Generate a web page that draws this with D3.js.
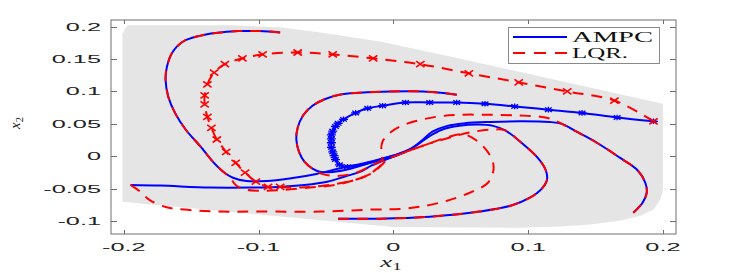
<!DOCTYPE html>
<html>
<head>
<meta charset="utf-8">
<script src="https://cdn.jsdelivr.net/npm/d3@7"></script>
<style>
body { margin: 0; background: #fff; }
</style>
</head>
<body>
<div id="chart"></div>
<script>

// ticks
var xTicks = [-0.2, -0.1, 0, 0.1, 0.2];
var yTicks = [-0.1, -0.05, 0, 0.05, 0.1, 0.15, 0.2];
var xTickLabels = ["-0.2", "-0.1", "0", "0.1", "0.2"];
var yTickLabels = ["-0.1", "-0.05", "0", "0.05", "0.1", "0.15", "0.2"];
var seriesNames = ["AMPC", "LQR."];

// grey feasible region (x1, x2)
var region = [[-0.197,0.202],[-0.121,0.202],[-0.084,0.199],[-0.054,0.191],[-0.010,0.177],[0.042,0.154],
	[0.200,0.081],[0.200,0.000],[0.200,-0.051],[0.198,-0.067],[0.193,-0.082],[0.183,-0.092],[0.168,-0.099],
	[0.146,-0.105],[0.124,-0.108],[0.094,-0.110],[0.000,-0.109],[-0.201,-0.070],[-0.201,0.172],[-0.201,0.188],[-0.199,0.197]];

// AMPC trajectories
var ampcA = [[-0.084,0.191],[-0.099,0.193],[-0.115,0.193],[-0.132,0.190],[-0.143,0.186],[-0.156,0.177],[-0.164,0.160],
	[-0.168,0.138],[-0.169,0.118],[-0.167,0.092],[-0.162,0.067],[-0.154,0.041],[-0.143,0.015],[-0.134,-0.008],
	[-0.126,-0.024],[-0.119,-0.033],[-0.109,-0.038],[-0.094,-0.038],[-0.077,-0.034],[-0.057,-0.027],[-0.037,-0.017],
	[-0.021,-0.010],[-0.006,-0.002],[0.005,0.004]];
var ampcB = [[-0.195,-0.044],[-0.173,-0.045],[-0.136,-0.048],[-0.106,-0.048],[-0.086,-0.047],[-0.066,-0.044],
	[-0.049,-0.039],[-0.036,-0.031],[-0.025,-0.024],[-0.016,-0.014],[-0.008,-0.007],[0.001,0.001]];
var ampcD = [[0.178,-0.087],[0.185,-0.071],[0.188,-0.056],[0.187,-0.041],[0.181,-0.021],[0.168,-0.002],[0.151,0.021],
	[0.136,0.038],[0.125,0.050],[0.116,0.053],[0.094,0.054],[0.072,0.053],[0.053,0.051],[0.040,0.047],[0.029,0.038],
	[0.022,0.026],[0.014,0.013],[0.003,0.003],[-0.006,-0.005]];
var ampcE = [[-0.041,-0.096],[-0.010,-0.096],[0.027,-0.093],[0.064,-0.085],[0.087,-0.076],[0.101,-0.064],[0.110,-0.050],
	[0.114,-0.036],[0.113,-0.021],[0.107,-0.002],[0.095,0.021],[0.083,0.040],[0.074,0.047],[0.063,0.049],[0.049,0.047],
	[0.036,0.041],[0.026,0.030],[0.018,0.018],[0.009,0.007],[-0.002,-0.002]];
var ampcF = [[0.047,0.095],[0.035,0.098],[0.022,0.100],[-0.002,0.100],[-0.025,0.098],[-0.040,0.095],[-0.051,0.088],
	[-0.060,0.078],[-0.067,0.063],[-0.071,0.044],[-0.072,0.026],[-0.070,0.007],[-0.066,-0.008],[-0.060,-0.019],
	[-0.054,-0.024],[-0.045,-0.024],[-0.032,-0.019],[-0.019,-0.011],[-0.006,-0.004],[0.005,0.004]];
// the one with markers
var ampcC = [[0.193,0.054],[0.166,0.060],[0.140,0.067],[0.115,0.072],[0.090,0.077],[0.068,0.081],[0.047,0.083],
	[0.027,0.083],[0.009,0.083],[-0.008,0.078],[-0.019,0.074],[-0.028,0.067],[-0.037,0.057],[-0.041,0.051],[-0.043,0.046],
	[-0.045,0.039],[-0.046,0.033],[-0.046,0.027],[-0.046,0.021],[-0.046,0.014],[-0.045,0.007],[-0.044,0.001],
	[-0.043,-0.005],[-0.040,-0.013],[-0.034,-0.016]];
var ampcCTail = [[-0.034,-0.016],[-0.023,-0.013],[-0.010,-0.005],[0.003,0.003]];

// LQR trajectories
var lqrA = ampcA.slice(0, 15).concat([[-0.121,-0.033],[-0.117,-0.044],[-0.110,-0.051],[-0.100,-0.053],[-0.084,-0.052],
	[-0.062,-0.048],[-0.043,-0.044],[-0.028,-0.036],[-0.017,-0.027],[-0.010,-0.016],[-0.005,-0.005]]);
var lqrB = [[-0.195,-0.044],[-0.188,-0.054],[-0.181,-0.067],[-0.169,-0.078],[-0.155,-0.082],[-0.129,-0.085],
	[-0.099,-0.085],[-0.054,-0.085],[-0.017,-0.082],[0.005,-0.081],[0.024,-0.076],[0.042,-0.067],[0.059,-0.054],
	[0.070,-0.041],[0.074,-0.024],[0.074,-0.010],[0.070,0.007],[0.062,0.024],[0.052,0.034],[0.041,0.030],[0.027,0.020],
	[0.012,0.009],[-0.002,-0.002]];
var lqrD = ampcD.slice(0, 9).concat([[0.118,0.057],[0.109,0.061],[0.094,0.063],[0.072,0.064],[0.049,0.064],
	[0.032,0.061],[0.016,0.054],[0.005,0.046],[-0.002,0.037],[-0.008,0.023],[-0.009,0.007],[-0.008,-0.005]]);
var lqrE = ampcE.slice(0, 12).concat([[0.072,0.041],[0.057,0.037],[0.042,0.029],[0.027,0.020],[0.012,0.009],[-0.002,-0.002]]);
var lqrF = ampcF.slice(0, 14).concat([[-0.053,-0.027],[-0.040,-0.030],[-0.026,-0.024],[-0.016,-0.014],[-0.007,-0.005]]);
var lqrC = [[0.193,0.054],[0.164,0.086],[0.129,0.100],[0.093,0.114],[0.056,0.128],[0.020,0.142],[-0.015,0.151],
	[-0.045,0.157],[-0.071,0.160],[-0.097,0.157],[-0.112,0.151],[-0.125,0.142],[-0.133,0.129],[-0.138,0.111],
	[-0.140,0.094],[-0.140,0.080],[-0.138,0.061],[-0.135,0.044],[-0.131,0.026],[-0.124,0.007],[-0.117,-0.010],
	[-0.110,-0.025],[-0.102,-0.039],[-0.093,-0.047],[-0.084,-0.047]];
var lqrCTail = [[-0.084,-0.047],[-0.069,-0.048],[-0.051,-0.045],[-0.034,-0.039],[-0.020,-0.030],[-0.011,-0.017],[-0.005,-0.005]];


var width = 747;
var height = 273;
var blue = "#0000ff";
var red = "#ff0000";
var axisColor = "#6e6e6e";
var plot = {left: 111, right: 676, top: 20, bottom: 234};
var stretch = 2.2; // the picture is wide, glyphs are too

var svg = d3.select("#chart").append("svg")
.attr("width", width)
.attr("height", height);

var x = d3.scaleLinear().domain([-0.2095, 0.2097]).range([plot.left, plot.right]);
var y = d3.scaleLinear().domain([-0.1196, 0.2101]).range([plot.bottom, plot.top]);

svg.append("clipPath").attr("id", "clip")
.append("rect")
.attr("x", plot.left).attr("y", plot.top)
.attr("width", plot.right - plot.left).attr("height", plot.bottom - plot.top);

var g = svg.append("g").attr("clip-path", "url(#clip)");

var smooth = d3.line()
.x(function(d){ return x(d[0]); })
.y(function(d){ return y(d[1]); })
.curve(d3.curveCatmullRom.alpha(0.5));

//region
g.append("path")
.datum(region)
.attr("d", d3.line().x(function(d){ return x(d[0]); }).y(function(d){ return y(d[1]); }).curve(d3.curveLinearClosed))
.attr("fill", "#e5e5e5")
.attr("stroke", "none");

function trajectory(pts, color, dashed) {
	var p = g.append("path")
	.datum(pts)
	.attr("d", smooth)
	.attr("fill", "none")
	.attr("stroke", color)
	.attr("stroke-width", 2)
	.attr("stroke-linejoin", "round");
	if (dashed)
		p.attr("stroke-dasharray", "11,8");
	return p;
}

// asterisk, squashed the same way as the text
var starPath = "M-4.5,0L4.5,0M0,-2.8L0,2.8M-3.4,-2.2L3.4,2.2M-3.4,2.2L3.4,-2.2";
var crossPath = "M-4.2,-3L4.2,3M-4.2,3L4.2,-3";

function markers(pts, shape, color, w) {
	g.selectAll(null)
	.data(pts)
	.enter().append("path")
	.attr("transform", function(d){ return "translate(" + x(d[0]) + "," + y(d[1]) + ")"; })
	.attr("d", shape)
	.attr("fill", "none")
	.attr("stroke", color)
	.attr("stroke-width", w);
}

[ampcA, ampcB, ampcD, ampcE, ampcF, ampcC, ampcCTail].forEach(function(t){ trajectory(t, blue, false); });
markers(ampcC, starPath, blue, 1.3);
[lqrA, lqrB, lqrD, lqrE, lqrF, lqrC, lqrCTail].forEach(function(t){ trajectory(t, red, true); });
markers(lqrC, crossPath, red, 1.6);

//AXES BOX with inward ticks on all four sides
svg.append("rect")
.attr("x", plot.left).attr("y", plot.top)
.attr("width", plot.right - plot.left).attr("height", plot.bottom - plot.top)
.attr("fill", "none")
.attr("stroke", axisColor)
.attr("stroke-width", 1);

xTicks.forEach(function(t){
	var px = Math.round(x(t)) + 0.5;
	svg.append("line").attr("x1", px).attr("x2", px).attr("y1", plot.bottom).attr("y2", plot.bottom - 4).attr("stroke", axisColor);
	svg.append("line").attr("x1", px).attr("x2", px).attr("y1", plot.top).attr("y2", plot.top + 4).attr("stroke", axisColor);
});
yTicks.forEach(function(t){
	var py = Math.round(y(t)) + 0.5;
	svg.append("line").attr("x1", plot.left).attr("x2", plot.left + 6).attr("y1", py).attr("y2", py).attr("stroke", axisColor);
	svg.append("line").attr("x1", plot.right).attr("x2", plot.right - 6).attr("y1", py).attr("y2", py).attr("stroke", axisColor);
});

svg.selectAll(".xlab")
.data(xTicks)
.enter().append("text")
.attr("class", "xlab")
.attr("transform", function(d){ return "translate(" + x(d) + ",251) scale(" + stretch + ",1)"; })
.attr("text-anchor", "middle")
.style("font", "11.5px 'Liberation Sans', Arial, sans-serif")
.attr("fill", "#222")
.text(function(d, i){ return xTickLabels[i]; });

svg.selectAll(".ylab")
.data(yTicks)
.enter().append("text")
.attr("class", "ylab")
.attr("transform", function(d){ return "translate(101," + (y(d) + 4) + ") scale(" + stretch + ",1)"; })
.attr("text-anchor", "end")
.style("font", "11.5px 'Liberation Sans', Arial, sans-serif")
.attr("fill", "#222")
.text(function(d, i){ return yTickLabels[i]; });

// axis titles
var xt = svg.append("text")
.attr("transform", "translate(391,267) scale(1.8,1)")
.attr("text-anchor", "middle")
.style("font", "italic 15px 'Liberation Serif', 'Times New Roman', serif")
.attr("fill", "#222");
xt.append("tspan").text("x");
xt.append("tspan").attr("font-size", "10.5px").attr("font-style", "normal").attr("dy", 3).text("1");

var yt = svg.append("text")
.attr("transform", "translate(20,123) rotate(-90)")
.attr("text-anchor", "middle")
.style("font", "italic 15px 'Liberation Serif', 'Times New Roman', serif")
.attr("fill", "#222");
yt.append("tspan").text("x");
yt.append("tspan").attr("font-size", "10.5px").attr("font-style", "normal").attr("dy", 3).text("2");

//LEGEND
var legend = svg.append("g").attr("class", "legend");
legend.append("rect")
.attr("x", 508.5).attr("y", 27.5)
.attr("width", 151).attr("height", 36)
.attr("fill", "#fff")
.attr("stroke", "#8a8a8a");

legend.selectAll("line")
.data(seriesNames)
.enter().append("line")
.attr("x1", 513).attr("x2", 567)
.attr("y1", function(d, i){ return 37 + i * 16; })
.attr("y2", function(d, i){ return 37 + i * 16; })
.attr("stroke", function(d, i){ return i === 0 ? blue : red; })
.attr("stroke-width", 2)
.attr("stroke-dasharray", function(d, i){ return i === 0 ? null : "12,9"; });

legend.selectAll("text")
.data(seriesNames)
.enter().append("text")
.attr("x", 572)
.attr("y", function(d, i){ return 42 + i * 16; })
.attr("textLength", function(d, i){ return i === 0 ? 81 : 56; })
.attr("lengthAdjust", "spacingAndGlyphs")
.style("font", "14.5px 'Liberation Serif', 'Times New Roman', serif")
.attr("fill", "#111")
.text(function(d){ return d; });

</script>
</body>
</html>
